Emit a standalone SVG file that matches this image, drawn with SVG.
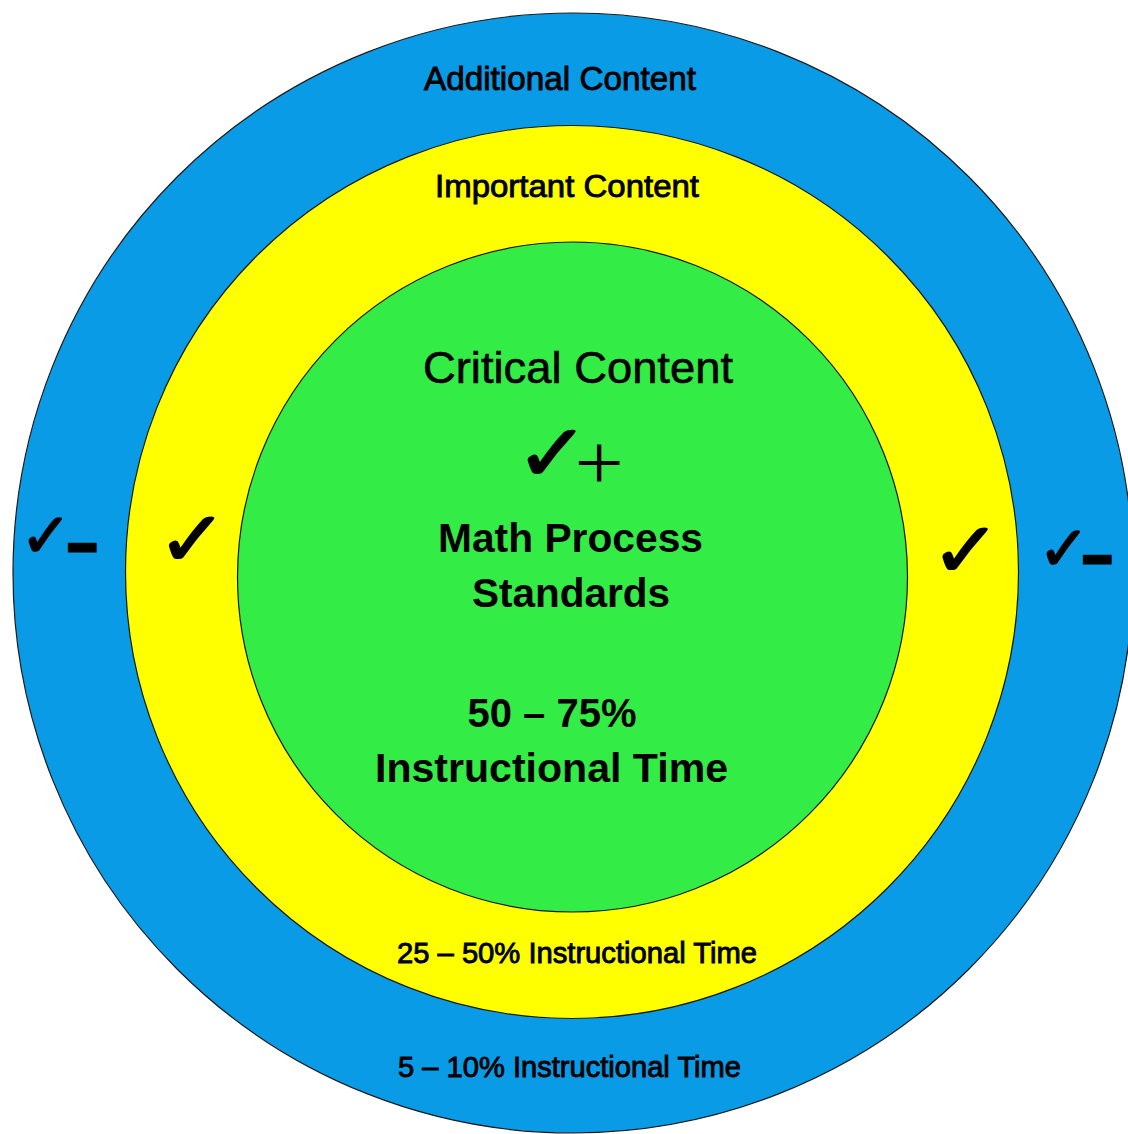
<svg xmlns="http://www.w3.org/2000/svg" width="1128" height="1134" viewBox="0 0 1128 1134">
<style>
.ring{stroke:#1a1a1a;stroke-width:1.2}
.t{font-family:"Liberation Sans",Arial,sans-serif;fill:#000;text-anchor:middle}
.soft{stroke:#000;stroke-width:0.9}
.b{font-weight:bold}
.chk{font-family:"DejaVu Sans",sans-serif;fill:#000;stroke:#000;stroke-width:1.5;text-anchor:middle}
.pair{font-family:"DejaVu Sans",sans-serif;fill:#000;stroke:#000;stroke-width:1.5;text-anchor:start}
.dash{font-family:"Liberation Sans",Arial,sans-serif;font-weight:bold;font-size:48px;stroke-width:5;letter-spacing:0}
.plus{font-family:"Liberation Serif",serif;font-size:78px;stroke-width:0;letter-spacing:0}
</style>
<rect width="1128" height="1134" fill="#fff"/>
<g id="additional">
<circle class="ring" cx="573" cy="573" r="560" fill="#0a9be6"/>
<text class="t soft" x="560" y="90" font-size="33" textLength="272" lengthAdjust="spacingAndGlyphs">Additional Content</text>
<text class="pair" x="20" y="557" font-size="62" letter-spacing="-3">✓<tspan class="dash" dy="3.5">–</tspan></text>
<text class="pair" x="1038" y="570" font-size="62" letter-spacing="-6">✓<tspan class="dash" dy="2.5">–</tspan></text>
<text class="t soft" x="569.5" y="1077" font-size="29" textLength="343" lengthAdjust="spacingAndGlyphs">5 – 10% Instructional Time</text>
</g>
<g id="important">
<circle class="ring" cx="572" cy="572" r="446.5" fill="#ffff00"/>
<text class="t soft" x="567" y="197" font-size="32" textLength="264" lengthAdjust="spacingAndGlyphs">Important Content</text>
<text class="chk" transform="translate(192.5,566) scale(1.1,1)" x="0" y="0" font-size="77">✓</text>
<text class="chk" transform="translate(966,577) scale(1.1,1)" x="0" y="0" font-size="77">✓</text>
<text class="t soft" x="577" y="963" font-size="29" textLength="360" lengthAdjust="spacingAndGlyphs">25 – 50% Instructional Time</text>
</g>
<g id="critical">
<circle class="ring" cx="572.5" cy="577" r="335" fill="#33ec46"/>
<text class="t" x="578" y="383" font-size="44" textLength="310" lengthAdjust="spacingAndGlyphs" stroke="#000" stroke-width="0.6">Critical Content</text>
<text class="pair" transform="translate(515,481) scale(1.12,1)" x="0" y="0" font-size="80" letter-spacing="-14">✓<tspan class="plus" dy="7.5">+</tspan></text>
<text class="t b" x="570.5" y="552" font-size="40" textLength="265" lengthAdjust="spacingAndGlyphs">Math Process</text>
<text class="t b" x="571" y="607" font-size="40" textLength="198" lengthAdjust="spacingAndGlyphs">Standards</text>
<text class="t b" x="552" y="727" font-size="40">50 – 75%</text>
<text class="t b" x="551.5" y="782" font-size="41" textLength="353" lengthAdjust="spacingAndGlyphs">Instructional Time</text>
</g>
<g id="connectors"></g>
</svg>
